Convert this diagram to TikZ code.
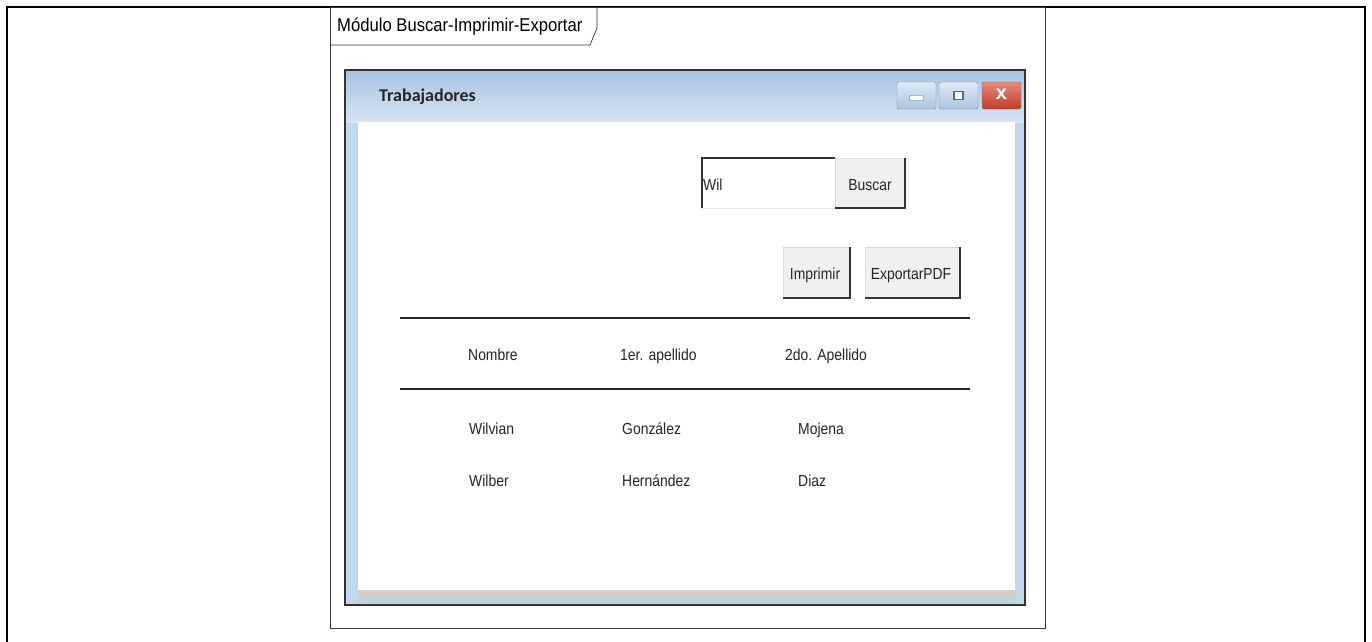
\documentclass[tikz,border=0pt]{standalone}
\usepackage{fontspec}
\setmainfont{Liberation Sans}
\newfontfamily\uifont{Liberation Sans}[FakeStretch=0.87]
\newfontfamily\tabfont{Liberation Sans}[FakeStretch=0.9]
\newfontfamily\titlefont{Carlito}
\definecolor{tbtop}{RGB}{168,196,228}
\definecolor{tbbot}{RGB}{214,228,243}
\definecolor{frameblue}{RGB}{193,215,236}
\definecolor{beige}{RGB}{212,206,196}
\definecolor{bottomblue}{RGB}{185,212,222}
\definecolor{redtop}{RGB}{228,140,120}
\definecolor{redbot}{RGB}{190,60,45}
\definecolor{wbtop}{RGB}{222,234,246}
\definecolor{wbbot}{RGB}{170,196,224}
\begin{document}
\begin{tikzpicture}[x=1pt,y=-1pt,
  lbl/.style={inner sep=0pt, font=\uifont\fontsize{16}{18}\selectfont, text=black!85, anchor=base},
  cell/.style={lbl, anchor=base west},
  wbtn/.style={rounded corners=2pt, draw=black!45, top color=wbtop, bottom color=wbbot},
]
\useasboundingbox (0,0) rectangle (1372,641);
% outer border
\draw[line width=2.6pt] (7,642) -- (7,7) -- (1365,7) -- (1365,642);
% inner frame
\draw[line width=0.8pt, black!80] (330,7) rectangle (1045,628);
% tab
\draw[line width=0.7pt, black!80] (330,45) -- (590,45) -- (597,28) -- (597,7);
\node[inner sep=0pt, anchor=base west, font=\tabfont\fontsize{18.5}{20}\selectfont] (tab) at (337,31) {Módulo Buscar-Imprimir-Exportar};
% window
\fill[frameblue] (345,70) rectangle (1025,605);
\shade[top color=tbtop, bottom color=tbbot] (346,71) rectangle (1024,122);
\fill[beige] (358,590) rectangle (1015,598);
\fill[bottomblue] (358,598) rectangle (1015,604);
\draw[line width=1.2pt, black!80] (345,70) rectangle (1025,605);
\fill[white] (358,122) rectangle (1015,590);
\node[inner sep=0pt, anchor=base west, font=\titlefont\bfseries\fontsize{18}{20}\selectfont, text=black!85] (title) at (379,101) {Trabajadores};
% window buttons
\draw[wbtn] (897,82) rectangle (936,109);
\draw[wbtn] (939,82) rectangle (978,109);
\draw[rounded corners=2pt, draw=black!55, top color=redtop, bottom color=redbot] (982,82) rectangle (1021,109);
\node[draw=black!60, fill=white, rounded corners=1pt, minimum width=14pt, minimum height=5pt, inner sep=0pt] (minicon) at (916.5,98) {};
\node[draw=black!60, line width=1.6pt, fill=white, minimum width=9pt, minimum height=8pt, inner sep=0pt] (maxicon) at (958.5,95.5) {};
\node[inner sep=0pt, font=\bfseries\fontsize{20}{20}\selectfont, text=white] (closeicon) at (1001.5,94.5) {x};
% search
\fill[white] (702,158) rectangle (835,208);
\draw[line width=1.6pt, black!80] (702,208) -- (702,158) -- (835,158);
\draw[line width=0.6pt, black!10] (702,208) -- (835,208);
\node[cell] (searchtext) at (703,190) {Wil};
\fill[black!6] (835,158) rectangle (905,208);
\draw[line width=0.6pt, black!15] (835,208) -- (835,158) -- (905,158);
\draw[line width=1.8pt, black!80] (905,158) -- (905,208) -- (835,208);
\node[lbl] (buscar) at (870,190) {Buscar};
% Imprimir / Exportar
\fill[black!6] (783,247) rectangle (850,298);
\draw[line width=0.6pt, black!15] (783,298) -- (783,247) -- (850,247);
\draw[line width=1.8pt, black!80] (850,247) -- (850,298) -- (783,298);
\node[lbl] (imprimir) at (815,279) {Imprimir};
\fill[black!6] (865,247) rectangle (960,298);
\draw[line width=0.6pt, black!15] (865,298) -- (865,247) -- (960,247);
\draw[line width=1.8pt, black!80] (960,247) -- (960,298) -- (865,298);
\node[lbl] (exportar) at (911,279) {ExportarPDF};
% table
\coordinate (l1a) at (400,318); \coordinate (l1b) at (970,318);
\coordinate (l2a) at (400,389); \coordinate (l2b) at (970,389);
\draw[line width=1.4pt, black!85] (l1a) -- (l1b);
\draw[line width=1.4pt, black!85] (l2a) -- (l2b);
\node[cell] (h1) at (468,360) {Nombre};
\node[cell] (h2) at (620,360) {1er. apellido};
\node[cell] (h3) at (785,360) {2do. Apellido};
\node[cell] (a1) at (469,434) {Wilvian};
\node[cell] (a2) at (622,434) {González};
\node[cell] (a3) at (798,434) {Mojena};
\node[cell] (b1) at (469,486) {Wilber};
\node[cell] (b2) at (622,486) {Hernández};
\node[cell] (b3) at (798,486) {Diaz};
\end{tikzpicture}
\end{document}
